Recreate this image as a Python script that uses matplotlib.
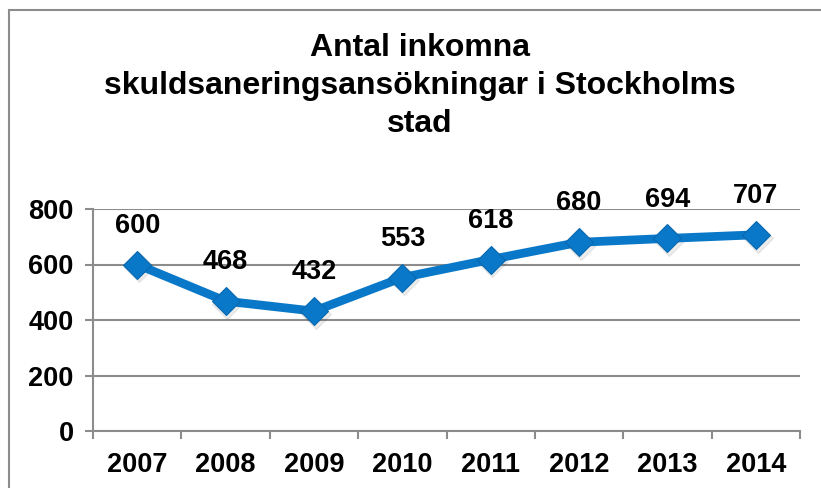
import matplotlib
matplotlib.use("Agg")
import matplotlib.pyplot as plt
from matplotlib.patches import Rectangle

years = ["2007", "2008", "2009", "2010", "2011", "2012", "2013", "2014"]
values = [600, 468, 432, 553, 618, 680, 694, 707]
yticks = [0, 200, 400, 600, 800]
title = "Antal inkomna\nskuldsaneringsansökningar i Stockholms\nstad"

plt.rcParams['font.family'] = ['Liberation Sans', 'DejaVu Sans']

fig = plt.figure(figsize=(8.21, 4.88), dpi=100)
ax = fig.add_axes([93/821, 57/488, 707/821, 222/488])

x = list(range(len(years)))
grid_c = "#8c8c8c"
line_c = "#0a78c8"

# soft shadow
ax.plot([xi + 0.02 for xi in x], [v - 10 for v in values], linestyle='none', marker='D',
        markersize=15, color='#000000', alpha=0.07, zorder=3, clip_on=False)
ax.plot(x, values, color=line_c, linewidth=6.3, marker='D', markersize=14.5,
        markerfacecolor=line_c, markeredgecolor='#0868b0', markeredgewidth=0.8,
        zorder=4, clip_on=False)

for xi, v in zip(x, values):
    ax.annotate(str(v), (xi, v), xytext=(0, 28), textcoords='offset points',
                ha='center', va='center', fontsize=19.5, fontweight='bold', color='black')

ax.set_xlim(-0.5, len(years) - 0.5)
ax.set_ylim(0, 800)
ax.set_yticks(yticks)
ax.set_yticklabels([str(t) for t in yticks], fontsize=19.5, fontweight='bold')
ax.set_xticks(x)
ax.set_xticklabels(years, fontsize=19.5, fontweight='bold')
ax.set_xticks([i - 0.5 for i in range(len(years) + 1)], minor=True)
ax.tick_params(axis='x', which='major', length=0, pad=15)
ax.tick_params(axis='x', which='minor', length=6, width=1.5, color=grid_c, direction='out')
ax.tick_params(axis='y', which='major', length=6, width=1.5, color=grid_c, pad=8)

ax.grid(axis='y', color=grid_c, linewidth=1.5)
ax.set_axisbelow(True)
for s in ['top', 'right']:
    ax.spines[s].set_visible(False)
ax.spines['left'].set_color(grid_c)
ax.spines['left'].set_linewidth(1.5)
ax.spines['bottom'].set_color(grid_c)
ax.spines['bottom'].set_linewidth(1.5)

fig.text(420/821, 1 - 86/488, title, ha='center', va='center', fontsize=23,
         fontweight='bold', linespacing=1.34)

fig.patches.append(Rectangle((9/821, -0.1), 1.2, 1.1 - 10/488, transform=fig.transFigure,
                             fill=False, edgecolor='#8c8c8c', linewidth=1.5))

fig.savefig("out.png", dpi=100)
